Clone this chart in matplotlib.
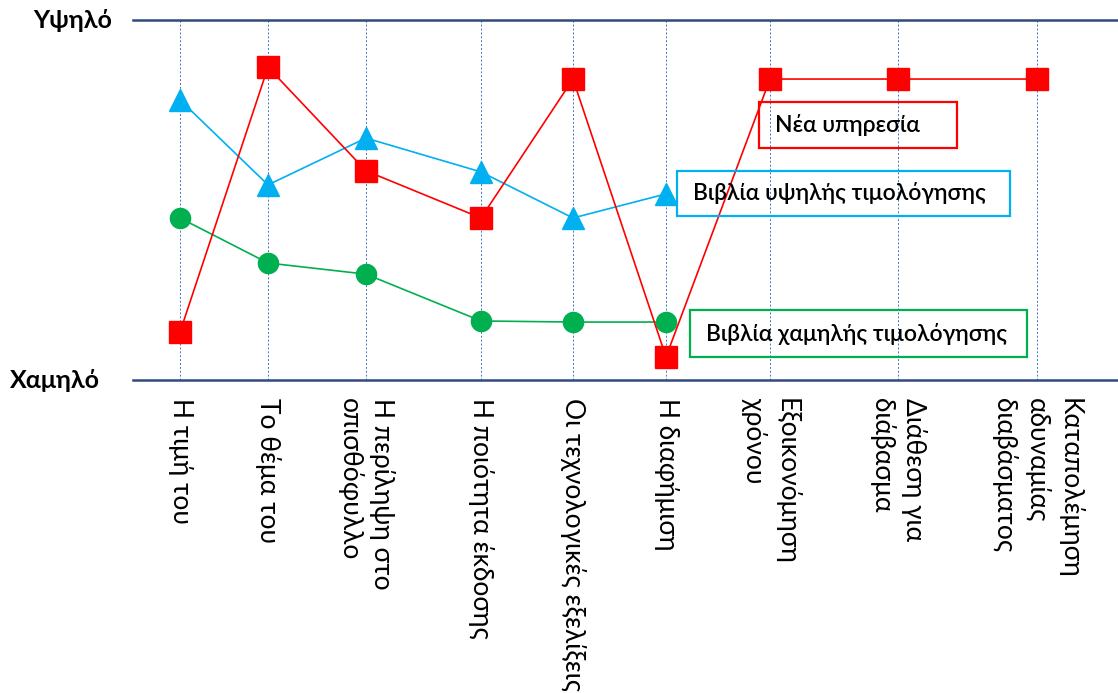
import matplotlib
matplotlib.use("Agg")
import matplotlib.pyplot as plt
from matplotlib.patches import Rectangle

plt.rcParams['font.family'] = ['Lato', 'DejaVu Sans']

# categories along the x axis (rotated labels)
categories = [
    "Η τιμή του",
    "Το θέμα του",
    "Η περίληψη στο\nοπισθόφυλλο",
    "Η ποιότητα έκδοσης",
    "Οι τεχνολογικές εξελίξεις",
    "Η διαφήμιση",
    "Εξοικονόμηση\nχρόνου",
    "Διάθεση για\nδιάβασμα",
    "Καταπολέμηση\nαδυναμίας\nδιαβάσματος",
]

# scores on a 0 (Χαμηλό) .. 10 (Υψηλό) scale
new_service = [1.33, 8.69, 5.81, 4.50, 8.36, 0.64, 8.36, 8.36, 8.36]
high_price = [7.78, 5.42, 6.72, 5.78, 4.50, 5.17]
low_price = [4.50, 3.25, 2.94, 1.64, 1.61, 1.61]

# horizontal placement of the categories (uneven, in pixels)
tick_pos = [180, 268, 366, 481, 573, 666, 770, 898, 1037]

RED = "#FF0000"
BLUE = "#00B0F0"
GREEN = "#00B050"
NAVY = "#2F4B7C"

W, H = 1118, 693
fig = plt.figure(figsize=(W / 100, H / 100), dpi=100)
ax = fig.add_axes([133 / W, 1 - 380 / H, 1 - 133 / W, 360 / H])
ax.set_xlim(133, 1118)
ax.set_ylim(0, 10)

# dotted guide lines for every category
ax.vlines(tick_pos, 0, 10, colors="#4472C4", linestyles=(0, (2, 2)), linewidth=0.7, zorder=1)
# top / bottom rules
for yv in (0, 10):
    ax.axhline(yv, color=NAVY, linewidth=1.8, zorder=2, clip_on=False)

ax.plot(tick_pos[:len(high_price)], high_price, color=BLUE, linewidth=1.2,
        marker="^", markersize=16, zorder=3, clip_on=False)
ax.plot(tick_pos[:len(low_price)], low_price, color=GREEN, linewidth=1.2,
        marker="o", markersize=14.5, zorder=3, clip_on=False)
ax.plot(tick_pos, new_service, color=RED, linewidth=1.2,
        marker="s", markersize=16.5, zorder=4, clip_on=False)

for s in ax.spines.values():
    s.set_visible(False)
ax.set_yticks([])
ax.set_xticks(tick_pos)
ax.set_xticklabels(categories, rotation=270, ha="center", va="top",
                   multialignment="left", fontsize=19, linespacing=1.33)
ax.tick_params(axis="x", length=0, pad=13)

# legend boxes next to the lines
boxes = [
    ("Νέα υπηρεσία", RED, 759, 957, 7.72, 6.44),
    ("Βιβλία υψηλής τιμολόγησης", BLUE, 677, 1010, 5.81, 4.56),
    ("Βιβλία χαμηλής τιμολόγησης", GREEN, 690, 1027, 1.94, 0.64),
]
for text, col, x0, x1, y1, y0 in boxes:
    ax.add_patch(Rectangle((x0, y0), x1 - x0, y1 - y0, fill=False, edgecolor=col,
                           linewidth=1.6, zorder=5, clip_on=False))
    ax.text(x0 + 16, (y0 + y1) / 2, text, ha="left", va="center",
            fontsize=16.5, fontweight="semibold", zorder=6)

fig.text(112 / W, 1 - 20 / H, "Υψηλό", ha="right", va="center", fontsize=18, fontweight="bold")
fig.text(100 / W, 1 - 381 / H, "Χαμηλό", ha="right", va="center", fontsize=18, fontweight="bold")

fig.savefig("out.png", dpi=100)
